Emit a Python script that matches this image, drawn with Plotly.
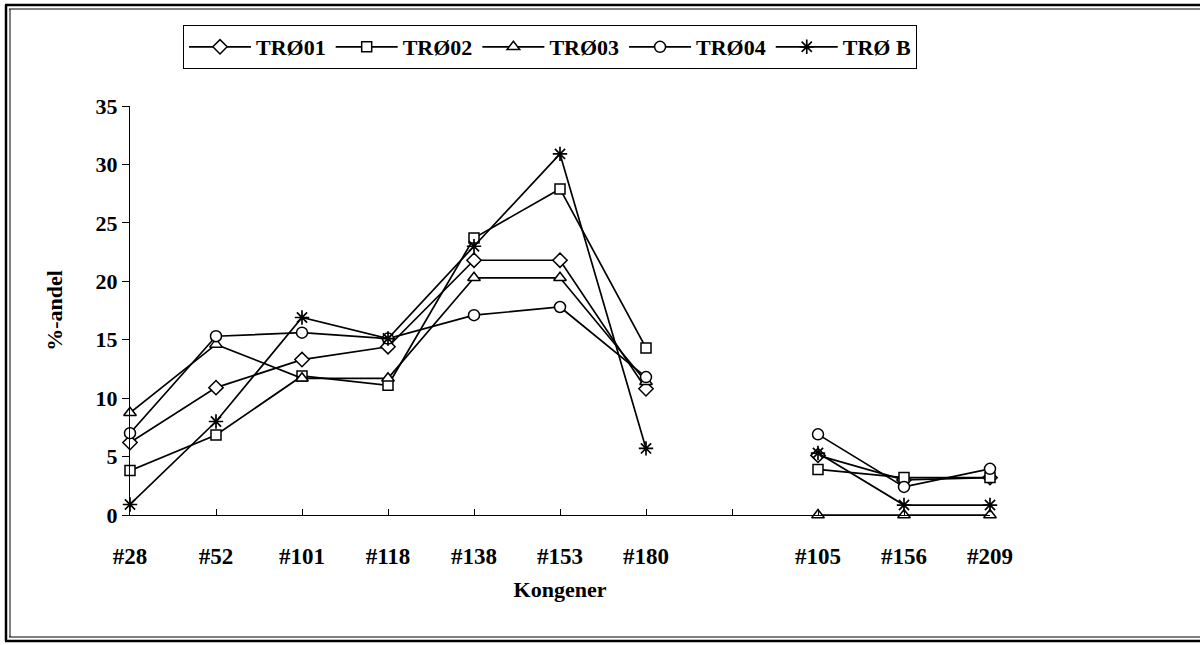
import plotly.graph_objects as go

categories = ["#28", "#52", "#101", "#118", "#138", "#153", "#180", "", "#105", "#156", "#209"]
tro01 = [6.2, 10.9, 13.3, 14.4, 21.8, 21.8, 10.8, None, 5.1, 3.0, 3.2]
tro02 = [3.8, 6.85, 11.9, 11.1, 23.7, 27.9, 14.3, None, 3.9, 3.2, 3.2]
tro03 = [8.75, 14.6, 11.7, 11.7, 20.3, 20.3, 11.4, None, 0, 0, 0]
tro04 = [7.0, 15.3, 15.6, 15.1, 17.1, 17.8, 11.8, None, 6.9, 2.4, 3.95]
trob = [0.9, 8.0, 16.9, 15.1, 23.0, 30.9, 5.7, None, 5.3, 0.85, 0.85]
series_names = ["TRØ01", "TRØ02", "TRØ03", "TRØ04", "TRØ B"]
y_ticks = [0, 5, 10, 15, 20, 25, 30, 35]

FONT = "Liberation Serif, Times New Roman, serif"
xs = list(range(len(categories)))

fig = go.Figure()
styles = [
    dict(symbol="diamond", size=11),
    dict(symbol="square", size=10),
    dict(symbol="triangle-up", size=11),
    dict(symbol="circle", size=11),
    dict(symbol="asterisk-open", size=12),
]
for name, vals, st in zip(series_names, [tro01, tro02, tro03, tro04, trob], styles):
    if st["symbol"].endswith("open"):
        marker = dict(symbol=st["symbol"], size=st["size"], color="black",
                      line=dict(color="black", width=1.7))
    else:
        marker = dict(symbol=st["symbol"], size=st["size"], color="white",
                      line=dict(color="black", width=1.5))
    fig.add_trace(go.Scatter(
        x=xs, y=vals, name=name, mode="lines+markers",
        line=dict(color="black", width=1.7), marker=marker,
        cliponaxis=False,
    ))

W, H = 1200, 645
L, R, T, B = 130, 210, 106, 130
pw, ph = W - L - R, H - T - B

def px(x):
    return (x - L) / pw

def py(y):
    return (H - B - y) / ph

shapes = []
# outer double border (top, left, bottom)
for (x0, y0, x1, y1, w) in [
    (5, 5, 1200, 5, 2.5), (9, 9, 1200, 9, 1),
    (6, 5, 6, 641, 2.5), (10, 9, 10, 637, 1),
    (5, 641, 1200, 641, 2.5), (9, 637, 1200, 637, 1),
]:
    shapes.append(dict(type="line", xref="paper", yref="paper",
                       x0=px(x0), y0=py(y0), x1=px(x1), y1=py(y1),
                       line=dict(color="black", width=w)))

fig.update_layout(
    width=W, height=H,
    margin=dict(l=L, r=R, t=T, b=B),
    paper_bgcolor="white", plot_bgcolor="white",
    font=dict(family=FONT, size=20, color="black"),
    showlegend=True,
    legend=dict(
        orientation="h", x=px(183), y=py(25), xanchor="left", yanchor="top",
        bordercolor="black", borderwidth=1, bgcolor="white",
        font=dict(family=FONT, size=22, color="black", weight="bold"),
        itemwidth=62, tracegroupgap=0,
    ),
    xaxis=dict(
        range=[0, 10], tickvals=xs, ticktext=categories,
        showline=True, linecolor="black", linewidth=1,
        ticks="inside", ticklen=6, tickcolor="black",
        showgrid=False, zeroline=False,
        tickfont=dict(family=FONT, size=23, weight="bold"),
        ticklabelstandoff=20,
        title=dict(text="Kongener", font=dict(family=FONT, size=22, weight="bold"), standoff=14),
    ),
    yaxis=dict(
        range=[0, 35], tickvals=y_ticks,
        showline=True, linecolor="black", linewidth=1,
        ticks="outside", ticklen=7, tickcolor="black",
        showgrid=False, zeroline=False,
        tickfont=dict(family=FONT, size=22, weight="bold"),
        title=dict(text="%-andel", font=dict(family=FONT, size=22, weight="bold"), standoff=26),
    ),
    shapes=shapes,
)

fig.write_html("out.html", config={"displayModeBar": False},
               post_script="document.body.style.margin='0';document.body.style.overflow='hidden';")
